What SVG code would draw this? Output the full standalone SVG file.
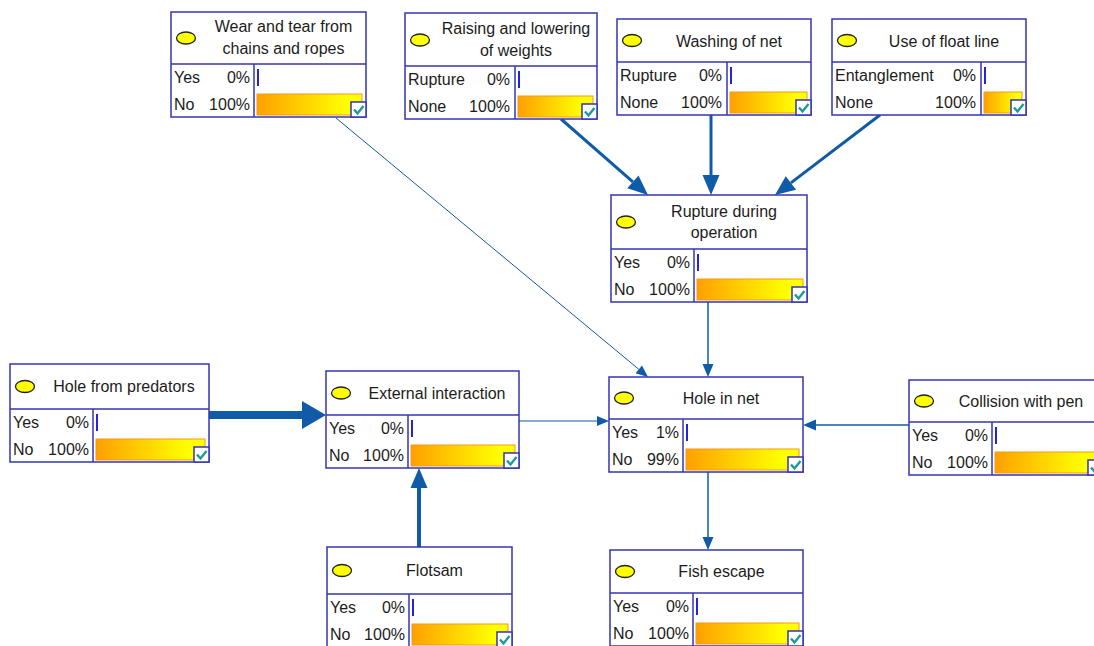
<svg xmlns="http://www.w3.org/2000/svg" xmlns:xlink="http://www.w3.org/1999/xlink" width="1094" height="646" viewBox="0 0 1094 646">
<style>
.box{fill:#fff;stroke:#3434B4;stroke-width:1.5}
.div{stroke:#3434B4;stroke-width:1.5;fill:none}
.dot{fill:#FFFF00;stroke:#222;stroke-width:1.3}
.t{font-family:"Liberation Sans",Arial,sans-serif;font-size:16px;fill:#1c1c1c}
.c{text-anchor:middle}
.r{text-anchor:end}
.thin{stroke:#2323E0;stroke-width:2}
.bar{fill:url(#grad);stroke:#F39A1C;stroke-width:1}
.edge{stroke:#0F5BA8;fill:none}
</style>
<defs>
<linearGradient id="grad" x1="0" y1="0" x2="1" y2="0">
<stop offset="0" stop-color="#FFA000"/>
<stop offset="0.85" stop-color="#FFFF00"/>
<stop offset="1" stop-color="#FFFF00"/>
</linearGradient>
<g id="chk">
<rect x="0" y="0" width="15" height="15" fill="#fff" stroke="#3434B4" stroke-width="1.5"/>
<path d="M3,7.5 L6.5,11.5 L12.5,4" fill="none" stroke="#1A9A9A" stroke-width="2.4"/>
</g>
<marker id="a12" markerUnits="userSpaceOnUse" markerWidth="12" markerHeight="10" refX="0" refY="5" orient="auto" overflow="visible"><path d="M0,0 L12,5 L0,10 z" fill="#0F5BA8"/></marker>
<marker id="a13" markerUnits="userSpaceOnUse" markerWidth="13" markerHeight="11" refX="0" refY="5.5" orient="auto" overflow="visible"><path d="M0,0 L13,5.5 L0,11 z" fill="#0F5BA8"/></marker>
<marker id="a20" markerUnits="userSpaceOnUse" markerWidth="20" markerHeight="17" refX="0" refY="8.5" orient="auto" overflow="visible"><path d="M0,0 L20,8.5 L0,17 z" fill="#0F5BA8"/></marker>
<marker id="a24" markerUnits="userSpaceOnUse" markerWidth="24" markerHeight="28" refX="0" refY="14" orient="auto" overflow="visible"><path d="M0,0 L24,14 L0,28 z" fill="#0F5BA8"/></marker>
</defs>

<g id="connectors">
<line class="edge" x1="336" y1="118" x2="638.8" y2="369.3" stroke-width="1" marker-end="url(#a12)"/>
<line class="edge" x1="561" y1="119" x2="632.9" y2="181.8" stroke-width="3" marker-end="url(#a20)"/>
<line class="edge" x1="711" y1="115" x2="711" y2="175" stroke-width="3" marker-end="url(#a20)"/>
<line class="edge" x1="880" y1="115" x2="790.9" y2="182.9" stroke-width="3" marker-end="url(#a20)"/>
<line class="edge" x1="708" y1="302" x2="708" y2="364" stroke-width="1.5" marker-end="url(#a13)"/>
<line class="edge" x1="209" y1="415" x2="302" y2="415" stroke-width="8" marker-end="url(#a24)"/>
<line class="edge" x1="519" y1="421" x2="597" y2="421" stroke-width="1" marker-end="url(#a12)"/>
<line class="edge" x1="909" y1="425" x2="816" y2="425" stroke-width="1.5" marker-end="url(#a13)"/>
<line class="edge" x1="419" y1="547" x2="419" y2="488" stroke-width="4" marker-end="url(#a20)"/>
<line class="edge" x1="708" y1="472" x2="708" y2="537" stroke-width="1.5" marker-end="url(#a13)"/>
</g>

<g id="wear">
<rect class="box" x="171" y="12" width="195" height="105"/>
<line class="div" x1="171" y1="64" x2="366" y2="64"/>
<line class="div" x1="254" y1="64" x2="254" y2="117"/>
<ellipse class="dot" cx="186" cy="38" rx="9.5" ry="6"/>
<text class="t c" x="283.5" y="32">Wear and tear from</text>
<text class="t c" x="283.5" y="54">chains and ropes</text>
<text class="t" x="174" y="83">Yes</text><text class="t r" x="250" y="83">0%</text>
<text class="t" x="174" y="110">No</text><text class="t r" x="250" y="110">100%</text>
<line class="thin" x1="258" y1="69" x2="258" y2="86"/>
<rect class="bar" x="257" y="94" width="105" height="21"/>
<use xlink:href="#chk" x="351" y="102"/>
</g>

<g id="raising">
<rect class="box" x="405" y="13" width="192" height="106"/>
<line class="div" x1="405" y1="66" x2="597" y2="66"/>
<line class="div" x1="515" y1="66" x2="515" y2="119"/>
<ellipse class="dot" cx="420" cy="40" rx="9.5" ry="6"/>
<text class="t c" x="516" y="34">Raising and lowering</text>
<text class="t c" x="516" y="56">of weights</text>
<text class="t" x="408" y="85">Rupture</text><text class="t r" x="510" y="85">0%</text>
<text class="t" x="408" y="112">None</text><text class="t r" x="510" y="112">100%</text>
<line class="thin" x1="519" y1="71" x2="519" y2="88"/>
<rect class="bar" x="518" y="96" width="75" height="21"/>
<use xlink:href="#chk" x="582" y="104"/>
</g>

<g id="washing">
<rect class="box" x="617" y="19" width="194" height="96"/>
<line class="div" x1="617" y1="62" x2="811" y2="62"/>
<line class="div" x1="727" y1="62" x2="727" y2="115"/>
<ellipse class="dot" cx="632" cy="40.5" rx="9.5" ry="6"/>
<text class="t c" x="729" y="46.5">Washing of net</text>
<text class="t" x="620" y="81">Rupture</text><text class="t r" x="722" y="81">0%</text>
<text class="t" x="620" y="108">None</text><text class="t r" x="722" y="108">100%</text>
<line class="thin" x1="731" y1="67" x2="731" y2="84"/>
<rect class="bar" x="730" y="92" width="77" height="21"/>
<use xlink:href="#chk" x="796" y="100"/>
</g>

<g id="floatline">
<rect class="box" x="832" y="19" width="194" height="96"/>
<line class="div" x1="832" y1="62" x2="1026" y2="62"/>
<line class="div" x1="981" y1="62" x2="981" y2="115"/>
<ellipse class="dot" cx="847" cy="40.5" rx="9.5" ry="6"/>
<text class="t c" x="944" y="46.5">Use of float line</text>
<text class="t" x="835" y="81">Entanglement</text><text class="t r" x="976" y="81">0%</text>
<text class="t" x="835" y="108">None</text><text class="t r" x="976" y="108">100%</text>
<line class="thin" x1="985" y1="67" x2="985" y2="84"/>
<rect class="bar" x="984" y="92" width="38" height="21"/>
<use xlink:href="#chk" x="1011" y="100"/>
</g>

<g id="rupture">
<rect class="box" x="611" y="195" width="196" height="107"/>
<line class="div" x1="611" y1="249" x2="807" y2="249"/>
<line class="div" x1="694" y1="249" x2="694" y2="302"/>
<ellipse class="dot" cx="626" cy="222" rx="9.5" ry="6"/>
<text class="t c" x="724" y="217">Rupture during</text>
<text class="t c" x="724" y="238">operation</text>
<text class="t" x="614" y="268">Yes</text><text class="t r" x="690" y="268">0%</text>
<text class="t" x="614" y="295">No</text><text class="t r" x="690" y="295">100%</text>
<line class="thin" x1="698" y1="254" x2="698" y2="271"/>
<rect class="bar" x="697" y="279" width="106" height="21"/>
<use xlink:href="#chk" x="792" y="287"/>
</g>

<g id="hole">
<rect class="box" x="609" y="377" width="194" height="95"/>
<line class="div" x1="609" y1="419" x2="803" y2="419"/>
<line class="div" x1="683" y1="419" x2="683" y2="472"/>
<ellipse class="dot" cx="624" cy="398" rx="9.5" ry="6"/>
<text class="t c" x="721" y="404">Hole in net</text>
<text class="t" x="612" y="438">Yes</text><text class="t r" x="679" y="438">1%</text>
<text class="t" x="612" y="465">No</text><text class="t r" x="679" y="465">99%</text>
<line class="thin" x1="687" y1="424" x2="687" y2="441"/>
<rect class="bar" x="686" y="449" width="113" height="21"/>
<use xlink:href="#chk" x="788" y="457"/>
</g>

<g id="collision">
<rect class="box" x="909" y="380" width="194" height="95"/>
<line class="div" x1="909" y1="422" x2="1103" y2="422"/>
<line class="div" x1="992" y1="422" x2="992" y2="475"/>
<ellipse class="dot" cx="924" cy="401" rx="9.5" ry="6"/>
<text class="t c" x="1021" y="407">Collision with pen</text>
<text class="t" x="912" y="441">Yes</text><text class="t r" x="988" y="441">0%</text>
<text class="t" x="912" y="468">No</text><text class="t r" x="988" y="468">100%</text>
<line class="thin" x1="996" y1="427" x2="996" y2="444"/>
<rect class="bar" x="995" y="452" width="104" height="21"/>
<use xlink:href="#chk" x="1088" y="460"/>
</g>

<g id="external">
<rect class="box" x="326" y="371" width="193" height="97"/>
<line class="div" x1="326" y1="415" x2="519" y2="415"/>
<line class="div" x1="408" y1="415" x2="408" y2="468"/>
<ellipse class="dot" cx="341" cy="393" rx="9.5" ry="6"/>
<text class="t c" x="437" y="399">External interaction</text>
<text class="t" x="329" y="434">Yes</text><text class="t r" x="404" y="434">0%</text>
<text class="t" x="329" y="461">No</text><text class="t r" x="404" y="461">100%</text>
<line class="thin" x1="412" y1="420" x2="412" y2="437"/>
<rect class="bar" x="411" y="445" width="104" height="21"/>
<use xlink:href="#chk" x="504" y="453"/>
</g>

<g id="predators">
<rect class="box" x="10" y="364" width="199" height="98"/>
<line class="div" x1="10" y1="409" x2="209" y2="409"/>
<line class="div" x1="93" y1="409" x2="93" y2="462"/>
<ellipse class="dot" cx="25" cy="386.5" rx="9.5" ry="6"/>
<text class="t c" x="124" y="392">Hole from predators</text>
<text class="t" x="13" y="428">Yes</text><text class="t r" x="89" y="428">0%</text>
<text class="t" x="13" y="455">No</text><text class="t r" x="89" y="455">100%</text>
<line class="thin" x1="97" y1="414" x2="97" y2="431"/>
<rect class="bar" x="96" y="439" width="109" height="21"/>
<use xlink:href="#chk" x="194" y="447"/>
</g>

<g id="flotsam">
<rect class="box" x="327" y="547" width="185" height="100"/>
<line class="div" x1="327" y1="594" x2="512" y2="594"/>
<line class="div" x1="409" y1="594" x2="409" y2="647"/>
<ellipse class="dot" cx="342" cy="570.5" rx="9.5" ry="6"/>
<text class="t c" x="434.5" y="576">Flotsam</text>
<text class="t" x="330" y="613">Yes</text><text class="t r" x="405" y="613">0%</text>
<text class="t" x="330" y="640">No</text><text class="t r" x="405" y="640">100%</text>
<line class="thin" x1="413" y1="599" x2="413" y2="616"/>
<rect class="bar" x="412" y="624" width="96" height="21"/>
<use xlink:href="#chk" x="497" y="632"/>
</g>

<g id="fishescape">
<rect class="box" x="610" y="550" width="193" height="96"/>
<line class="div" x1="610" y1="593" x2="803" y2="593"/>
<line class="div" x1="693" y1="593" x2="693" y2="646"/>
<ellipse class="dot" cx="625" cy="571.5" rx="9.5" ry="6"/>
<text class="t c" x="721.5" y="577">Fish escape</text>
<text class="t" x="613" y="612">Yes</text><text class="t r" x="689" y="612">0%</text>
<text class="t" x="613" y="639">No</text><text class="t r" x="689" y="639">100%</text>
<line class="thin" x1="697" y1="598" x2="697" y2="615"/>
<rect class="bar" x="696" y="623" width="103" height="21"/>
<use xlink:href="#chk" x="788" y="631"/>
</g>
</svg>
